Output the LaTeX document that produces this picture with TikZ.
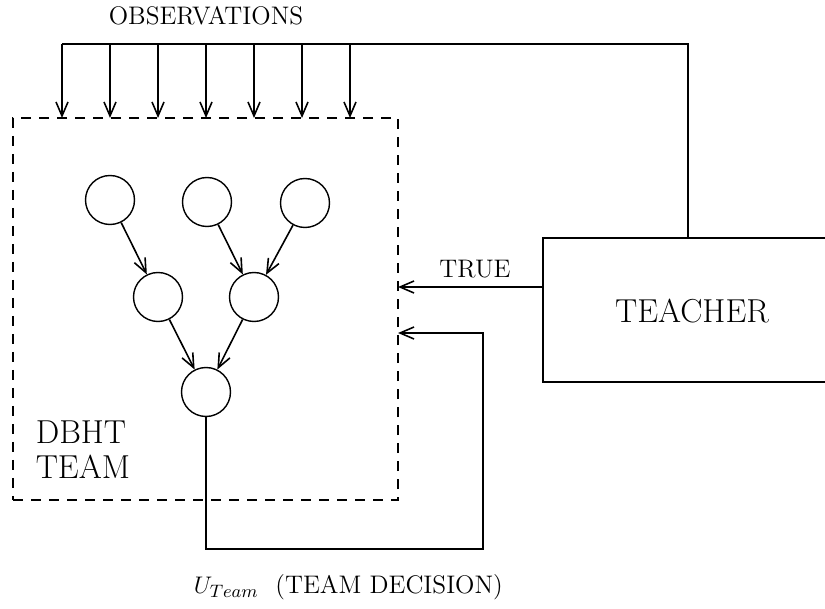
\documentclass[tikz,border=0pt]{standalone}
\usetikzlibrary{arrows.meta}
\begin{document}
\begin{tikzpicture}[x=0.5pt,y=-0.5pt,
  line width=0.8pt,
  tip/.style={-{Straight Barb[length=7pt,width=6pt]}},
  unit/.style={draw,circle,minimum size=24.5pt,inner sep=0pt,line width=0.7pt},
  teamline/.style={dash pattern=on 5pt off 4pt},
  lbl/.style={inner sep=0pt,font=\fontsize{12.7}{15}\selectfont},
  big/.style={inner sep=0pt,font=\fontsize{16.6}{18.5}\selectfont,align=left}]
\useasboundingbox (0,0) rectangle (825,609);
% team box
\node[draw,teamline,minimum width=192.5pt,minimum height=191pt,inner sep=0pt] (team) at (205.5,309) {};
% circles
\node[unit] (a) at (110,200) {};
\node[unit] (b) at (207,202) {};
\node[unit] (c) at (305,203) {};
\node[unit] (d) at (158,297) {};
\node[unit] (e) at (254,297) {};
\node[unit] (f) at (206,392) {};
\draw[tip] (a) -- (d);
\draw[tip] (b) -- (e);
\draw[tip] (c) -- (e);
\draw[tip] (d) -- (f);
\draw[tip] (e) -- (f);
% teacher
\draw (825,238) -- (543,238) -- (543,382) -- (825,382);
\coordinate (tl) at (543,287);
\node[big] (teacher) at (692,311) {TEACHER};
% observations
\coordinate (obs0) at (62,44);
\coordinate (obsend) at (688,44);
\coordinate (tt) at (688,238);
\draw (obs0) -- (obsend) -- (tt);
\foreach \x in {62,110,158,206,254,302,350}
  \draw[tip] (\x,44) -- (\x,118);
\node[lbl] (obs) at (206,16) {OBSERVATIONS};
% TRUE
\draw[tip] (tl) -- (398,287);
\node[lbl] (true) at (475,269) {TRUE};
% decision feedback
\coordinate (d1) at (206,549);
\coordinate (d2) at (483,549);
\coordinate (d3) at (483,333);
\draw[tip] (f.south) -- (d1) -- (d2) -- (d3) -- (398,333);
% labels
\node[big,anchor=north west] (dbht) at (35,420) {DBHT\\[-1pt]TEAM};
\node[lbl,anchor=west] (ut) at (193,587) {$U_{Team}$~~(TEAM DECISION)};
\end{tikzpicture}
\end{document}
